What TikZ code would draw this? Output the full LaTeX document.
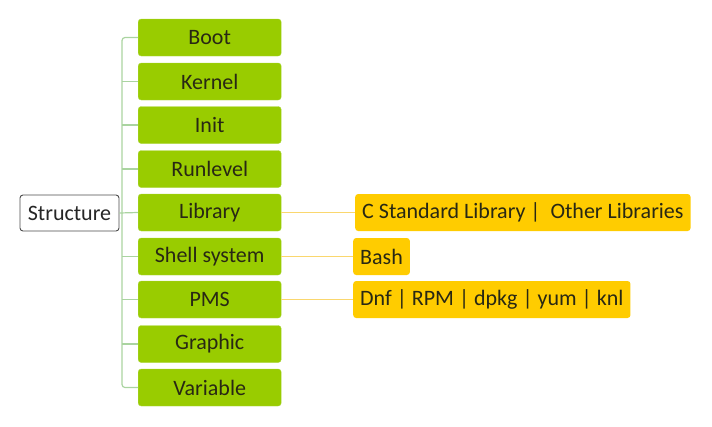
\documentclass[tikz,border=0pt]{standalone}
\usepackage{fontspec}
\setmainfont{Carlito}
\usetikzlibrary{positioning}
\definecolor{leafgreen}{RGB}{153,204,0}
\definecolor{leafedge}{RGB}{170,214,60}
\definecolor{subyellow}{RGB}{255,204,0}
\definecolor{trunkgreen}{RGB}{170,212,160}
\definecolor{linkyellow}{RGB}{250,215,110}
\definecolor{inkdark}{RGB}{40,40,20}
\begin{document}
\begin{tikzpicture}[x=1pt,y=1pt,
    root/.style={draw=black!70, line width=0.9pt, fill=white, rounded corners=3pt, minimum width=99pt, minimum height=36pt,
        font=\fontsize{22}{26}\selectfont, text=black!85},
    topic/.style={draw=leafedge, fill=leafgreen, rounded corners=3pt, minimum width=143pt, minimum height=37pt,
        anchor=west, font=\fontsize{22}{26}\selectfont, text=inkdark},
    leaf/.style={fill=subyellow, rounded corners=3pt, minimum height=37pt, inner xsep=7pt,
        anchor=west, font=\fontsize{22}{26}\selectfont, text=inkdark},
    trunk/.style={trunkgreen, line width=1.2pt, rounded corners=3pt},
    link/.style={linkyellow, line width=1pt}
]
    \useasboundingbox (0,0) rectangle (712,-426);

    \node[root] (struct) at (69.5,-213) {Structure};

    \node[topic] (boot) at (138,-37.5) {Boot};
    \node[topic] (kernel) at (138,-81.5) {Kernel};
    \node[topic] (init) at (138,-125) {Init};
    \node[topic] (runlevel) at (138,-169) {Runlevel};
    \node[topic] (library) at (138,-212.5) {Library};
    \node[topic] (shell) at (138,-256.5) {Shell system};
    \node[topic] (pms) at (138,-299.5) {PMS};
    \node[topic] (graphic) at (138,-344) {Graphic};
    \node[topic] (variable) at (138,-387.5) {Variable};

    \node[leaf] (clib) at (355,-212.5) {C Standard Library |\ \ Other Libraries};
    \node[leaf] (bash) at (353,-256.5) {Bash};
    \node[leaf] (pkgs) at (353,-299.5) {Dnf | RPM | dpkg | yum | knl};

    % tree lines
    \draw[trunk] (boot.west) -- ++(-16,0) |- (variable.west);
    \draw[trunk] (kernel.west) -- ++(-16,0);
    \draw[trunk] (init.west) -- ++(-16,0);
    \draw[trunk] (runlevel.west) -- ++(-16,0);
    \draw[trunk] (shell.west) -- ++(-16,0);
    \draw[trunk] (pms.west) -- ++(-16,0);
    \draw[trunk] (graphic.west) -- ++(-16,0);
    \draw[trunk] (struct.east) -- (library.west);

    \draw[link] (library.east) -- (clib.west);
    \draw[link] (shell.east) -- (bash.west);
    \draw[link] (pms.east) -- (pkgs.west);
\end{tikzpicture}
\end{document}
